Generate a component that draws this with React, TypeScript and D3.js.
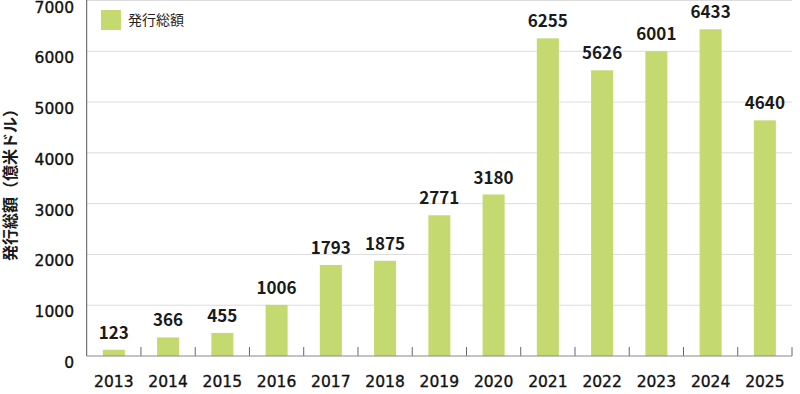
import React from "react";
import * as d3 from "d3";

const years = ["2013","2014","2015","2016","2017","2018","2019","2020","2021","2022","2023","2024","2025"];
const values = [123,366,455,1006,1793,1875,2771,3180,6255,5626,6001,6433,4640];
const yTicks = [0,1000,2000,3000,4000,5000,6000,7000];
const seriesName = "発行総額";
const yTitle = "発行総額（億米ドル）";

const W = 800, H = 394;
const left = 86.7, right = 792, top = 0.5, bottom = 356;
const font = "'Noto Sans CJK JP', 'Noto Sans', sans-serif";
const tickFont = "'DejaVu Sans', sans-serif";
const barColor = "#c4d96f";

export default function App() {
  const x = d3.scaleBand<string>().domain(years).range([left, right]).paddingInner(0).paddingOuter(0);
  const y = d3.scaleLinear().domain([0, 7000]).range([bottom, top]);
  const bw = 22;
  return (
    <svg width={W} height={H} style={{ position: "absolute", left: 0, top: 0 }} fontFamily={font}>
      {yTicks.map(t => (
        <g key={t}>
          {t > 0 && <line x1={left} x2={right} y1={y(t)} y2={y(t)} stroke="#dcdcdc" strokeWidth={1} />}
          <text x={74} y={y(t) + 12} textAnchor="end" fontSize={15.5} fontFamily={tickFont} fill="#111" stroke="#111" strokeWidth={0.35}>{t}</text>
        </g>
      ))}
      {years.map((yr, i) => {
        const cx = (x(yr) as number) + x.bandwidth() / 2;
        return (
          <g key={yr}>
            <rect x={cx - bw / 2} y={y(values[i])} width={bw} height={bottom - y(values[i])} fill={barColor} />
            <text x={cx} y={y(values[i]) - 11} textAnchor="middle" fontSize={17} fontWeight={700} fill="#1a1a1a">{values[i]}</text>
            <text x={cx} y={387} textAnchor="middle" fontSize={15.5} fontFamily={tickFont} fill="#111" stroke="#111" strokeWidth={0.35}>{yr}</text>
          </g>
        );
      })}
      {years.map((yr, i) => (
        <line key={"t" + i} x1={(x(yr) as number) + x.bandwidth()} x2={(x(yr) as number) + x.bandwidth()} y1={347} y2={bottom} stroke="#666" strokeWidth={1} />
      ))}
      <line x1={left} x2={left} y1={0} y2={bottom} stroke="#555" strokeWidth={1} />
      <line x1={left} x2={right} y1={bottom} y2={bottom} stroke="#888" strokeWidth={1} />
      <rect x={101} y={10} width={20} height={20} fill={barColor} />
      <text x={128} y={25} fontSize={14} fill="#222">{seriesName}</text>
      <text transform={`translate(16,181) rotate(-90)`} textAnchor="middle" fontSize={16} fontWeight={700} fill="#1a1a1a">{yTitle}</text>
    </svg>
  );
}
